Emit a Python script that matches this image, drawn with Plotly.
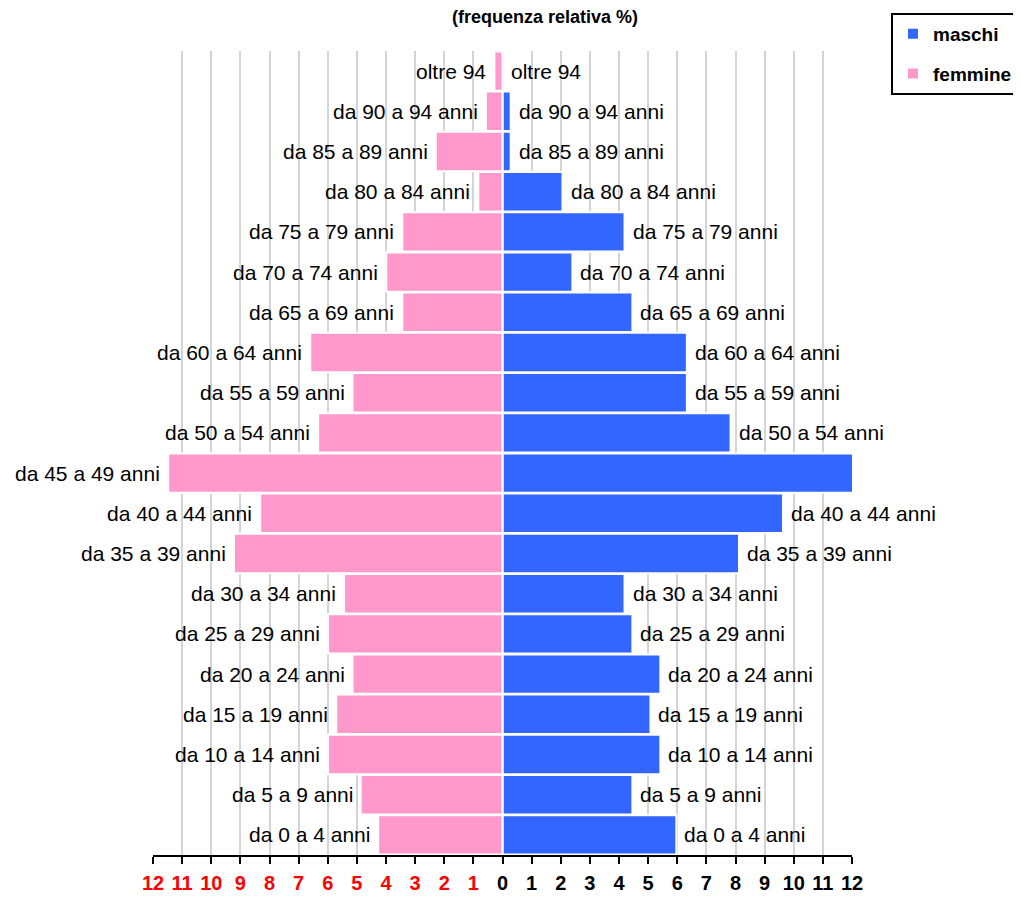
import plotly.graph_objects as go

# Age classes, bottom to top
classi = ["da 0 a 4 anni", "da 5 a 9 anni", "da 10 a 14 anni", "da 15 a 19 anni",
          "da 20 a 24 anni", "da 25 a 29 anni", "da 30 a 34 anni", "da 35 a 39 anni",
          "da 40 a 44 anni", "da 45 a 49 anni", "da 50 a 54 anni", "da 55 a 59 anni",
          "da 60 a 64 anni", "da 65 a 69 anni", "da 70 a 74 anni", "da 75 a 79 anni",
          "da 80 a 84 anni", "da 85 a 89 anni", "da 90 a 94 anni", "oltre 94"]

maschi = [5.97, 4.46, 5.42, 5.08, 5.42, 4.46, 4.19, 8.12, 9.63, 12.2,
          7.83, 6.33, 6.33, 4.46, 2.40, 4.19, 2.06, 0.28, 0.28, 0.0]

femmine = [4.27, 4.87, 5.99, 5.71, 5.15, 5.99, 5.44, 9.22, 8.32, 11.48,
           6.33, 5.15, 6.60, 3.44, 3.99, 3.44, 0.83, 2.29, 0.57, 0.28]

tick_vals = list(range(-12, 13))
tick_text = [f'<span style="color:#ff0000">{abs(v)}</span>' if v < 0 else str(v) for v in tick_vals]

BLUE = "#3366ff"
PINK = "#ff99cc"
FAMILY = "Liberation Sans, Arial, sans-serif"
LABEL_FONT = dict(family=FAMILY, size=21, color="#000000")

fig = go.Figure()
fig.add_trace(go.Bar(
    y=classi, x=maschi, orientation="h", name="maschi",
    marker=dict(color=BLUE, line=dict(color="#ffffff", width=2)),
    cliponaxis=False, legendgroup="m", hoverinfo="x+y",
))
fig.add_trace(go.Bar(
    y=classi, x=[-v for v in femmine], orientation="h", name="femmine",
    marker=dict(color=PINK, line=dict(color="#ffffff", width=2)),
    cliponaxis=False, legendgroup="f", hoverinfo="y",
))

for c, m, f in zip(classi, maschi, femmine):
    fig.add_annotation(x=m, y=c, text=c, showarrow=False, xanchor="left",
                       xshift=6, font=LABEL_FONT)
    fig.add_annotation(x=-f, y=c, text=c, showarrow=False, xanchor="right",
                       xshift=-6, font=LABEL_FONT)

fig.update_layout(
    width=1021, height=898,
    margin=dict(l=145, r=177, t=43, b=51, autoexpand=False),
    paper_bgcolor="#ffffff", plot_bgcolor="#ffffff",
    barmode="overlay", bargap=0.02,
    title=dict(text="<b>(frequenza relativa %)</b>", x=0.526, xanchor="center",
               yref="container", y=1 - 2 / 898, yanchor="top",
               font=dict(family=FAMILY, size=18, color="#000000")),
    legend=dict(xref="container", yref="container",
                x=883 / 1021, xanchor="left", y=1 - 5 / 898, yanchor="top",
                bgcolor="#ffffff", bordercolor="#000000", borderwidth=2,
                font=dict(family=FAMILY, size=19, color="#000000", weight="bold"),
                traceorder="grouped", tracegroupgap=12),
    xaxis=dict(range=[-12, 12], tickvals=tick_vals, ticktext=tick_text,
               automargin=False,
               showgrid=True, gridcolor="#d4d4d4", gridwidth=2, zeroline=False,
               showline=True, linecolor="#000000", linewidth=2,
               ticks="outside", ticklen=7, tickwidth=2, tickcolor="#000000",
               ticklabelstandoff=2,
               tickfont=dict(family=FAMILY, size=20, color="#000000", weight="bold")),
    yaxis=dict(showticklabels=False, showgrid=False, zeroline=False, showline=False,
               ticks="", automargin=False),
)

fig.write_html("out.html")
